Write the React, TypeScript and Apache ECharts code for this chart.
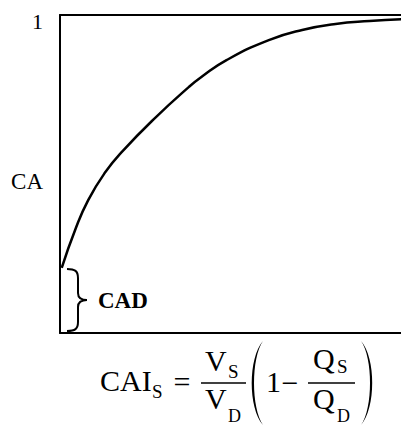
import React, { useEffect, useRef } from "react";
import * as echarts from "echarts";

// Curve (x: fraction of horizontal extent, y: CA from 0 to 1)
const curveX = [0.005, 0.044, 0.082, 0.132, 0.182, 0.279, 0.375, 0.411, 0.484, 0.607, 0.704, 0.801, 0.9, 1.0];
const curveY = [0.205, 0.324, 0.418, 0.506, 0.572, 0.679, 0.774, 0.805, 0.858, 0.921, 0.953, 0.972, 0.981, 0.987];
const yTickLabels = ["1"];
const yAxisName = "CA";
const braceLabel = "CAD";

const SERIF = "'Liberation Serif', 'Times New Roman', serif";

echarts.graphic.registerShape(
  "brace",
  echarts.graphic.extendPath(
    "M67,269 C75,269 78,271 78,278 L78,293 C78,298 81,300 87,300 C81,300 78,302 78,307 L78,322 C78,329 75,331 67,331",
    {}
  )
);
echarts.graphic.registerShape(
  "lparen",
  echarts.graphic.extendPath("M263,341 C248,358 248,408 263,425 C251,408 251,358 263,341 Z", {})
);
echarts.graphic.registerShape(
  "rparen",
  echarts.graphic.extendPath("M361,341 C376,358 376,408 361,425 C373,408 373,358 361,341 Z", {})
);

function txt(text: string, x: number, y: number, size: number, opts: any = {}) {
  return {
    type: "text",
    x,
    y,
    style: {
      text,
      fontSize: size,
      fontFamily: SERIF,
      fill: "#000",
      align: opts.align || "left",
      verticalAlign: "middle",
      fontWeight: opts.weight || "normal",
    },
  };
}

export default function App() {
  const ref = useRef<HTMLDivElement>(null);
  useEffect(() => {
    if (!ref.current) return;
    const chart = echarts.init(ref.current, null, { renderer: "svg" });
    const data = curveX.map((x, i) => [x, curveY[i]]);
    chart.setOption({
      animation: false,
      backgroundColor: "#fff",
      grid: { left: 60, top: 15, right: -3, bottom: 92, containLabel: false, outerBoundsMode: "none" },
      xAxis: [
        {
          type: "value",
          min: 0,
          max: 1,
          position: "bottom",
          axisLine: { show: true, onZero: false, lineStyle: { color: "#000", width: 2 } },
          axisTick: { show: false },
          axisLabel: { show: false },
          splitLine: { show: false },
        },
        {
          type: "value",
          min: 0,
          max: 1,
          position: "top",
          axisLine: { show: true, onZero: false, lineStyle: { color: "#000", width: 2 } },
          axisTick: { show: false },
          axisLabel: { show: false },
          splitLine: { show: false },
        },
      ],
      yAxis: {
        type: "value",
        min: 0,
        max: 1,
        interval: 1,
        name: yAxisName,
        nameLocation: "middle",
        nameRotate: 0,
        nameGap: 17,
        nameMoveOverlap: false,
        nameTextStyle: {
          fontFamily: SERIF,
          fontSize: 23,
          color: "#000",
          align: "right",
          verticalAlign: "top",
          lineHeight: 14,
        },
        axisLine: { show: true, lineStyle: { color: "#000", width: 2 } },
        axisTick: { show: false },
        splitLine: { show: false },
        axisLabel: {
          margin: 17,
          fontFamily: SERIF,
          fontSize: 22,
          color: "#000",
          verticalAlign: "top",
          lineHeight: 12,
          formatter: (v: number) => (v === 1 ? yTickLabels[0] : ""),
        },
      },
      series: [
        {
          type: "line",
          data,
          smooth: 0.5,
          showSymbol: false,
          symbol: "none",
          lineStyle: { color: "#000", width: 2.5 },
          clip: false,
        },
      ],
      graphic: [
        { type: "brace", x: 0, y: 0, style: { stroke: "#000", lineWidth: 2, fill: "none" } },
        txt(braceLabel, 98, 300, 23, { weight: "bold" }),
        // formula
        txt("CAI", 100, 380, 30),
        txt("S", 152, 391, 19),
        txt("=", 182, 381, 30, { align: "center" }),
        txt("V", 205, 360, 30),
        txt("S", 228, 371, 19),
        { type: "line", shape: { x1: 201, y1: 383, x2: 246, y2: 383 }, style: { stroke: "#000", lineWidth: 1.5 } },
        txt("V", 205, 398, 30),
        txt("D", 228, 416, 18),
        { type: "lparen", x: 0, y: 0, style: { fill: "#000", stroke: "none" } },
        txt("1", 266, 381, 30),
        txt("\u2212", 290, 382, 30, { align: "center" }),
        txt("Q", 313, 358, 30),
        txt("S", 337, 366, 19),
        { type: "line", shape: { x1: 308, y1: 383, x2: 355, y2: 383 }, style: { stroke: "#000", lineWidth: 1.5 } },
        txt("Q", 313, 398, 30),
        txt("D", 337, 416, 18),
        { type: "rparen", x: 0, y: 0, style: { fill: "#000", stroke: "none" } },
      ],
    });
    return () => chart.dispose();
  }, []);
  return (
    <div
      ref={ref}
      style={{ position: "fixed", left: 0, top: 0, width: 401, height: 425, background: "#fff" }}
    />
  );
}
